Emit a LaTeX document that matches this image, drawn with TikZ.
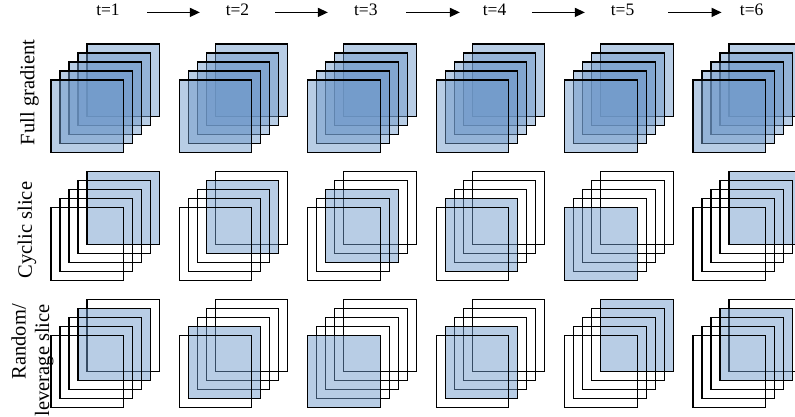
\documentclass[tikz,border=0pt]{standalone}
\usepackage{fontspec}
\setmainfont{Liberation Serif}
\usetikzlibrary{arrows.meta}
\definecolor{gblue}{RGB}{112,153,202}
\begin{document}
\begin{tikzpicture}[x=1pt,y=-1pt,
  sq/.style={draw=black,line width=1.05pt},
  sqf/.style={sq,fill=gblue,fill opacity=0.49},
  tlab/.style={inner sep=0pt,font=\fontsize{17.5}{19}\selectfont},
  rowlab/.style={rotate=90,inner sep=0pt,font=\fontsize{20.5}{23.5}\selectfont},
  arr/.style={line width=1.4pt,-{Triangle[length=10pt,width=9pt]}}]
\useasboundingbox (0,0) rectangle (795,417);
\fill[white] (0,0) rectangle (795,417);
% stacks
\foreach \c/\fa/\fb in {0/4/3, 1/3/1, 2/2/0, 3/1/1, 4/0/4, 5/4/3}{
  \foreach \k in {4,3,2,1,0}{
    \pgfmathsetmacro{\xx}{51+128.4*\c+9*\k}
    \pgfmathsetmacro{\yy}{80-9*\k}
    \draw[sqf] (\xx,\yy) rectangle ++(72.5,72.5);
    \ifnum\k=\fa\relax\def\stA{sqf}\else\def\stA{sq}\fi
    \draw[\stA] (\xx,\yy+127.7) rectangle ++(72.5,72.5);
    \ifnum\k=\fb\relax\def\stB{sqf}\else\def\stB{sq}\fi
    \draw[\stB] (\xx,\yy+255.4) rectangle ++(72.5,72.5);
  }
}
% time labels
\node[tlab] (t1) at (108,10) {t=1};
\node[tlab] (t2) at (237.5,10) {t=2};
\node[tlab] (t3) at (365.8,10) {t=3};
\node[tlab] (t4) at (494.5,10) {t=4};
\node[tlab] (t5) at (622.5,10) {t=5};
\node[tlab] (t6) at (751.7,10) {t=6};
\draw[arr,shorten <=27.2pt,shorten >=25.7pt] ([yshift=-2.4pt]t1.east) -- ([yshift=-2.4pt]t2.west);
\draw[arr,shorten <=25.7pt,shorten >=26pt] ([yshift=-2.4pt]t2.east) -- ([yshift=-2.4pt]t3.west);
\draw[arr,shorten <=28.4pt,shorten >=22.7pt] ([yshift=-2.4pt]t3.east) -- ([yshift=-2.4pt]t4.west);
\draw[arr,shorten <=25.4pt,shorten >=25.7pt] ([yshift=-2.4pt]t4.east) -- ([yshift=-2.4pt]t5.west);
\draw[arr,shorten <=33.7pt,shorten >=18.2pt] ([yshift=-2.4pt]t5.east) -- ([yshift=-2.4pt]t6.west);
% row labels
\node[rowlab] (lab1) at (29.5,92.5) {Full gradient};
\node[rowlab] (lab2) at (27,230) {Cyclic slice};
\node[rowlab,align=right,anchor=east] (lab3) at (32.5,304) {Random/\\leverage slice};
\end{tikzpicture}
\end{document}
